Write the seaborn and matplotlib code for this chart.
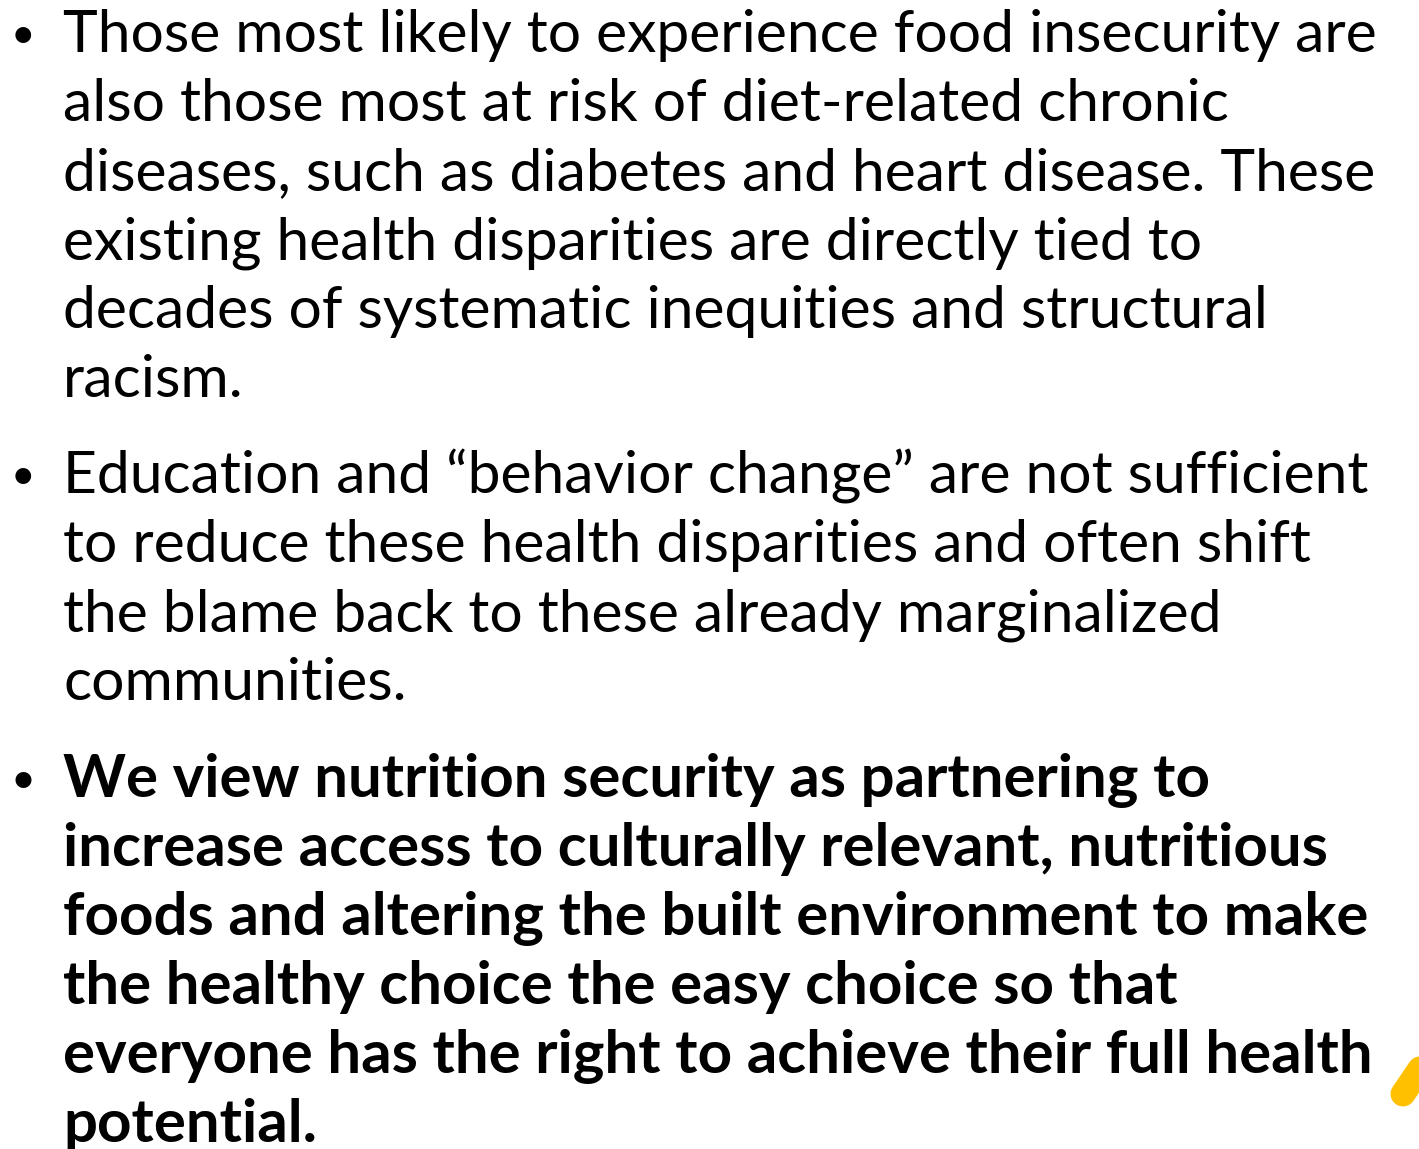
import matplotlib
matplotlib.use("Agg")
import matplotlib.pyplot as plt
import seaborn as sns

# ------------------------------------------------------------------------------
# Slide content
# ------------------------------------------------------------------------------
BULLET_1 = [
    "Those most likely to experience food insecurity are",
    "also those most at risk of diet-related chronic",
    "diseases, such as diabetes and heart disease. These",
    "existing health disparities are directly tied to",
    "decades of systematic inequities and structural",
    "racism.",
]
BULLET_2 = [
    "Education and \u201cbehavior change\u201d are not sufficient",
    "to reduce these health disparities and often shift",
    "the blame back to these already marginalized",
    "communities.",
]
BULLET_3 = [
    "We view nutrition security as partnering to",
    "increase access to culturally relevant, nutritious",
    "foods and altering the built environment to make",
    "the healthy choice the easy choice so that",
    "everyone has the right to achieve their full health",
    "potential.",
]
BULLET_BOLD = [False, False, True]

# ------------------------------------------------------------------------------
# Layout (pixels)
# ------------------------------------------------------------------------------
W, H = 1419, 1149
TEXT_X = 63
BULLET_X = 23
LINE_PITCH = 69
FIRST_BASELINES = [52, 493, 797]
REG_WIDTH = 1313   # width of line 1 in px
BOLD_WIDTH = 1305  # width of "foods and altering ..." in px
FONTS = ["Lato", "DejaVu Sans"]
ACCENT = "#FFC000"

sns.set_theme(style="white")
plt.rcParams["font.family"] = FONTS

fig = plt.figure(figsize=(W / 100, H / 100), dpi=100)
fig.patch.set_facecolor("white")
ax = fig.add_axes([0, 0, 1, 1])
ax.set_xlim(0, W)
ax.set_ylim(H, 0)
ax.axis("off")


def fit_size(text, weight, target):
  t = ax.text(0, 0, text, fontsize=40, fontweight=weight)
  fig.canvas.draw()
  w = t.get_window_extent(fig.canvas.get_renderer()).width
  t.remove()
  return 40 * target / w


reg_size = fit_size(BULLET_1[0], "normal", REG_WIDTH)
bold_size = fit_size(BULLET_3[2], "bold", BOLD_WIDTH)

for lines, base, bold in zip([BULLET_1, BULLET_2, BULLET_3], FIRST_BASELINES,
                             BULLET_BOLD):
  weight = "bold" if bold else "normal"
  size = bold_size if bold else reg_size
  ax.text(BULLET_X, base - 4, "\u2022", fontsize=size * 0.72,
          fontweight="normal", ha="center", va="baseline", color="black")
  for i, line in enumerate(lines):
    ax.text(TEXT_X, base + i * LINE_PITCH, line, fontsize=size,
            fontweight=weight, ha="left", va="baseline", color="black")

# Decorative accent stroke in the bottom-right corner
ax.plot([1403, 1445], [1094, 1032], color=ACCENT, lw=18,
        solid_capstyle="round", clip_on=True)

fig.savefig("out.png", dpi=100, facecolor="white")
